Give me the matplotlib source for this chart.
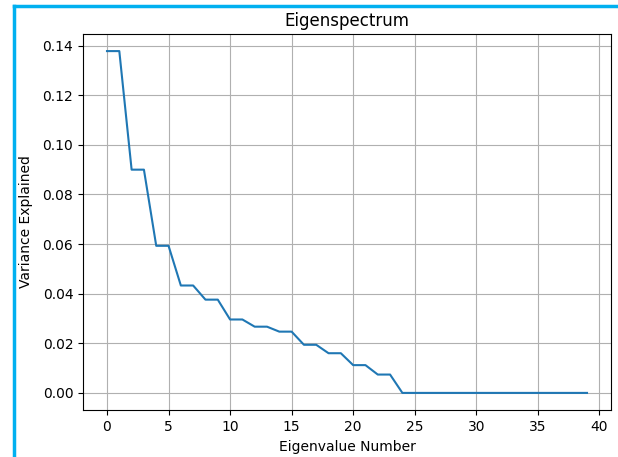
import numpy as np
import matplotlib
matplotlib.use("Agg")
import matplotlib.pyplot as plt
from matplotlib.lines import Line2D


# ---------------------------------------
# Data
# ---------------------------------------

eigen_number = np.arange(40)

variance_explained = [
    0.1378, 0.1378,
    0.0900, 0.0900,
    0.0593, 0.0593,
    0.0433, 0.0433,
    0.0376, 0.0376,
    0.0296, 0.0296,
    0.0267, 0.0267,
    0.0247, 0.0247,
    0.0194, 0.0194,
    0.0160, 0.0160,
    0.0112, 0.0112,
    0.0074, 0.0074,
] + [0.0] * 16


# ---------------------------------------
# Plot
# ---------------------------------------

fig = plt.figure(figsize=(6.18, 4.57), dpi=100)
ax = fig.add_axes([83 / 618, 1 - 410 / 457, (611 - 83) / 618, (410 - 34) / 457])

ax.plot(
    eigen_number,
    variance_explained,
    color="#1f77b4",
    linewidth=1.5
)

ax.grid(color="#b0b0b0", linewidth=0.8)

ax.set_xticks(np.arange(0, 41, 5))
ax.set_yticks(np.arange(0, 0.141, 0.02))

ax.set_xlabel("Eigenvalue Number", labelpad=4.5)
ax.set_ylabel("Variance Explained", labelpad=6.5)
ax.set_title("Eigenspectrum", fontsize=12)

# cyan frame of the screenshot (left and top edges)
fig.add_artist(Line2D([13.5 / 618, 13.5 / 618], [0, 1 - 6 / 457],
                      transform=fig.transFigure, color="#00b0f0", linewidth=2.5))
fig.add_artist(Line2D([13.5 / 618, 1], [1 - 6 / 457, 1 - 6 / 457],
                      transform=fig.transFigure, color="#00b0f0", linewidth=2.5))

fig.savefig("out.png", dpi=100)
